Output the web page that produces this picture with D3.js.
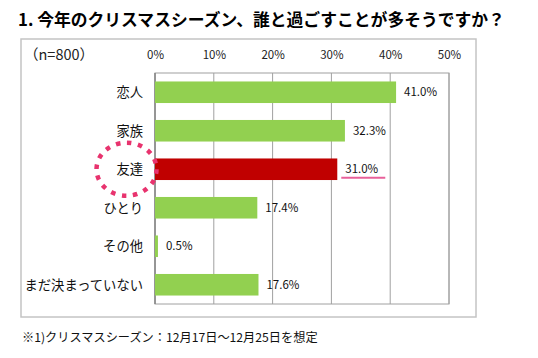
<!DOCTYPE html>
<html><head><meta charset="utf-8">
<script src="https://cdn.jsdelivr.net/npm/d3@7"></script>
<style>
html,body{margin:0;padding:0;background:#fff;}
svg{display:block;font-family:"Noto Sans CJK JP","Noto Sans",sans-serif;}
</style></head>
<body><svg id="c" width="538" height="358"></svg>
<script>
const titleText = "1. 今年のクリスマスシーズン、誰と過ごすことが多そうですか？";
const noteText = "※1)クリスマスシーズン：12月17日～12月25日を想定";
const sampleText = "（n=800）";
const categories = ["恋人","家族","友達","ひとり","その他","まだ決まっていない"];
const values = [41.0, 32.3, 31.0, 17.4, 0.5, 17.6];
const highlight = "友達";
const ticks = [0,10,20,30,40,50];
const tickLabels = ["0%","10%","20%","30%","40%","50%"];

const svg = d3.select("#c");
const L = 155, R = 449, T = 73, B = 304;
const x = d3.scaleLinear().domain([0,50]).range([L,R]);
const y = d3.scaleBand().domain(categories).range([T,B]).paddingInner(0.44).paddingOuter(0.22);

// title
svg.append("text").attr("x",18).attr("y",26).attr("font-size",16.8).attr("font-weight","bold")
  .attr("fill","#000").text(titleText);

// outer box
svg.append("rect").attr("x",21).attr("y",39).attr("width",455).attr("height",278)
  .attr("fill","none").attr("stroke","#c4c4c4").attr("stroke-width",1.5);

// sample label
svg.append("text").attr("x",24).attr("y",60).attr("font-size",14.5).attr("fill","#222").text(sampleText);

// gridlines
svg.append("g").selectAll("line").data(ticks).join("line")
  .attr("x1",d=>x(d)).attr("x2",d=>x(d)).attr("y1",T).attr("y2",B)
  .attr("stroke","#a0a0a0").attr("stroke-width",1);
svg.append("rect").attr("x",L).attr("y",T).attr("width",R-L).attr("height",B-T)
  .attr("fill","none").attr("stroke","#a0a0a0").attr("stroke-width",1);
svg.append("line").attr("x1",L).attr("x2",L).attr("y1",T).attr("y2",B)
  .attr("stroke","#7f7f7f").attr("stroke-width",1.2);

// top axis labels
const ax = d3.axisTop(x).tickValues(ticks).tickFormat((d,i)=>tickLabels[i]).tickSize(0).tickPadding(0);
const g = svg.append("g").attr("transform","translate(0,59)").call(ax);
g.select(".domain").remove();
g.selectAll("text").attr("font-size",11.5).attr("fill","#222")
  .attr("font-family","'Noto Sans CJK JP','Noto Sans',sans-serif");

// bars
svg.append("g").selectAll("rect").data(categories).join("rect")
  .attr("x",x(0)).attr("y",d=>y(d)).attr("height",y.bandwidth())
  .attr("width",(d,i)=>x(values[i])-x(0))
  .attr("fill",d=>d===highlight?"#c00000":"#92d050");

// category labels
svg.append("g").selectAll("text").data(categories).join("text")
  .attr("x",143).attr("y",d=>y(d)+y.bandwidth()/2).attr("dy","0.36em")
  .attr("text-anchor","end").attr("font-size",13.3).attr("fill","#111").text(d=>d);

// value labels
svg.append("g").selectAll("text").data(categories).join("text")
  .attr("x",(d,i)=>x(values[i])+8).attr("y",d=>y(d)+y.bandwidth()/2).attr("dy","0.36em")
  .attr("font-size",11.5).attr("fill","#111").text((d,i)=>values[i].toFixed(1)+"%");

// highlight decorations
const hi = categories.indexOf(highlight);
const hy = y(highlight)+y.bandwidth()/2;
svg.append("ellipse").attr("cx",126.5).attr("cy",hy).attr("rx",30).attr("ry",26.5)
  .attr("fill","none").attr("stroke","#e8336e").attr("stroke-width",4.5)
  .attr("stroke-dasharray","4.5 6.6");
svg.append("line").attr("x1",x(values[hi])+4).attr("x2",x(values[hi])+48)
  .attr("y1",hy+8.5).attr("y2",hy+8.5).attr("stroke","#e8609a").attr("stroke-width",2);

// footnote
svg.append("text").attr("x",22).attr("y",342).attr("font-size",12.2).attr("fill","#111").text(noteText);
</script></body></html>
